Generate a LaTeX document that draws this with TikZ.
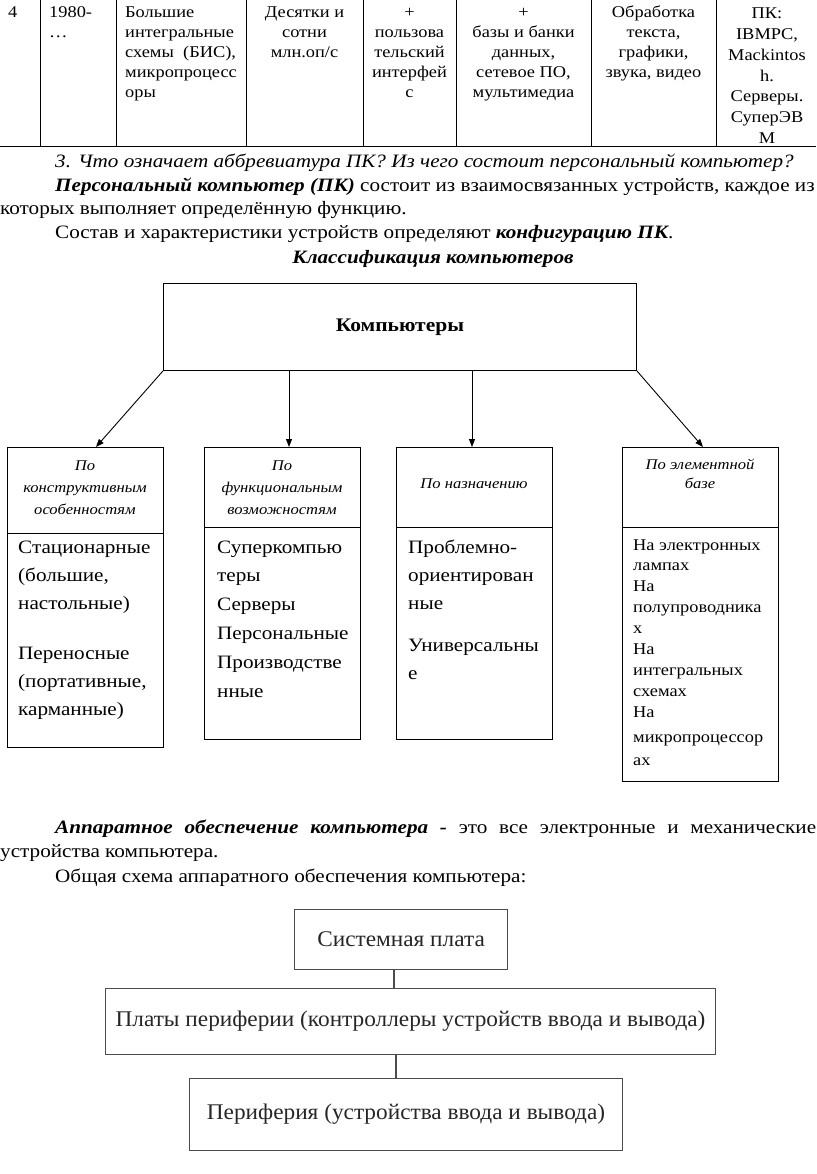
\documentclass[tikz,border=0pt]{standalone}
\usepackage{fontspec}
\setmainfont{Liberation Serif}[FakeStretch=1.12]
\newfontfamily\schemafont{Liberation Serif}[FakeStretch=1.04]
\usetikzlibrary{arrows.meta,calc}
\tikzset{
  tline/.style={line width=1pt},
  tcl/.style={inner sep=0pt, anchor=base west, font=\fontsize{16.4}{20}\selectfont},
  tcc/.style={inner sep=0pt, anchor=base, font=\fontsize{16.4}{20}\selectfont},
  body/.style={inner sep=0pt, anchor=base west, font=\fontsize{18.9}{24}\selectfont},
  cbox/.style={draw, line width=0.9pt, inner sep=0pt, anchor=north west},
  hdr/.style={inner sep=0pt, anchor=base, font=\fontsize{14.8}{22}\selectfont\itshape},
  itm/.style={inner sep=0pt, anchor=base west, font=\fontsize{18.9}{28}\selectfont},
  itms/.style={inner sep=0pt, anchor=base west, font=\fontsize{16.4}{21}\selectfont},
  arr/.style={-{Triangle[length=8pt,width=6pt]}, line width=0.9pt},
  sbox/.style={draw=black!70, line width=1.1pt, inner sep=0pt, text=black!85,
    font=\schemafont\fontsize{22.4}{24}\selectfont},
  slink/.style={draw=black!70, line width=1.1pt},
}
\begin{document}
\begin{tikzpicture}[x=1pt,y=-1pt]
\useasboundingbox (0,0) rectangle (816,1174);
% ---------- table row ----------
\foreach \xx in {40,116,246,363,456,591,716} \draw[tline] (\xx,0) -- (\xx,147);
\draw[tline] (0,147) -- (816,147);
\node[tcl] (c1) at (8,18) {4};
\foreach \t [count=\i] in {1980-,…}
  \node[tcl] (c2-\i) at (49,{18+(\i-1)*20}) {\t};
\foreach \t [count=\i] in {Большие,интегральные,{схемы\ \ (БИС),},микропроцесс,оры}
  \node[tcl] (c3-\i) at (125,{18+(\i-1)*20}) {\t};
\foreach \t [count=\i] in {Десятки и,сотни,млн.оп/с}
  \node[tcc] (c4-\i) at (304.5,{18+(\i-1)*20}) {\t};
\foreach \t [count=\i] in {+,пользова,тельский,интерфей,с}
  \node[tcc] (c5-\i) at (409.5,{18+(\i-1)*20}) {\t};
\foreach \t [count=\i] in {+,базы и банки,{данных,},{сетевое ПО,},мультимедиа}
  \node[tcc] (c6-\i) at (523.5,{18+(\i-1)*20}) {\t};
\foreach \t [count=\i] in {Обработка,{текста,},{графики,},{звука, видео}}
  \node[tcc] (c7-\i) at (653.5,{18+(\i-1)*20}) {\t};
\foreach \t [count=\i] in {ПК:,{IBMPC,},Mackintos,h.,Серверы.,СуперЭВ,М}
  \node[tcc] (c8-\i) at (767,{19+(\i-1)*20.7}) {\t};
% ---------- text ----------
\node[body] (l1) at (55,168) {\itshape 3. Что означает аббревиатура ПК? Из чего состоит персональный компьютер?};
\node[body] (l2) at (55,192) {{\bfseries\itshape Персональный компьютер (ПК)} состоит из взаимосвязанных устройств, каждое из};
\node[body] (l3) at (0,215) {которых выполняет определённую функцию.};
\node[body] (l4) at (55,239) {Состав и характеристики устройств определяют {\bfseries\itshape конфигурацию ПК}.};
\node[body, anchor=base] (l5) at (433,263) {\bfseries\itshape Классификация компьютеров};
% ---------- classification ----------
\node[cbox, minimum width=473pt, minimum height=87pt, font=\fontsize{19.2}{20}\selectfont\bfseries] (komp) at (163,283) {Компьютеры};
\node[cbox, minimum width=156pt, minimum height=300pt] (b1) at (7,447) {};
\node[cbox, minimum width=156pt, minimum height=292pt] (b2) at (204,447) {};
\node[cbox, minimum width=156pt, minimum height=292pt] (b3) at (396,447) {};
\node[cbox, minimum width=156pt, minimum height=334pt] (b4) at (622,447) {};
\draw[line width=0.9pt] (b1.west |- 0,533) -- (b1.east |- 0,533);
\draw[line width=0.9pt] (b2.west |- 0,527) -- (b2.east |- 0,527);
\draw[line width=0.9pt] (b3.west |- 0,527) -- (b3.east |- 0,527);
\draw[line width=0.9pt] (b4.west |- 0,527) -- (b4.east |- 0,527);
\coordinate (a1) at (96,447);
\coordinate (a2) at (289,447);
\coordinate (a3) at (472,447);
\coordinate (a4) at (703,447);
\draw[arr] (komp.south west) -- (a1);
\draw[arr] (a2 |- komp.south) -- (a2);
\draw[arr] (a3 |- komp.south) -- (a3);
\draw[arr] (komp.south east) -- (a4);
% headers
\foreach \t [count=\i] in {По,конструктивным,особенностям}
  \node[hdr] (h1-\i) at (85,{470+(\i-1)*22}) {\t};
\foreach \t [count=\i] in {По,функциональным,возможностям}
  \node[hdr] (h2-\i) at (282,{470+(\i-1)*22}) {\t};
\node[hdr] (h3-1) at (474,488) {По назначению};
\node[hdr] (h4-1) at (700,469) {По элементной};
\node[hdr] (h4-2) at (700,488) {базе};
% contents
\foreach \t/\yy [count=\i] in {Стационарные/553,{(большие,}/581,настольные)/609,Переносные/659,{(портативные,}/687,карманные)/715}
  \node[itm] (p1-\i) at (18,\yy) {\t};
\foreach \t [count=\i] in {Суперкомпью,теры,Серверы,Персональные,Производстве,нные}
  \node[itm] (p2-\i) at (217,{553+(\i-1)*28.8}) {\t};
\foreach \t/\yy [count=\i] in {Проблемно-/553,ориентирован/581,ные/609,Универсальны/651,е/679}
  \node[itm] (p3-\i) at (408,\yy) {\t};
\foreach \t/\yy [count=\i] in {На электронных/550,лампах/570,На/591,полупроводника/612,х/633,На/654,интегральных/675,схемах/696,На/717,микропроцессор/742,ах/765}
  \node[itms] (p4-\i) at (633,\yy) {\t};
% ---------- text 2 ----------
\node[body] (l6) at (55,833) {\makebox[761pt][s]{{\bfseries\itshape Аппаратное обеспечение компьютера -} это все электронные и механические}};
\node[body] (l7) at (0,857) {устройства компьютера.};
\node[body] (l8) at (55,882) {Общая схема аппаратного обеспечения компьютера:};
% ---------- hardware scheme ----------
\node[sbox, anchor=north west, minimum width=213pt, minimum height=60pt] (sp) at (294,909) {Системная плата};
\node[sbox, anchor=north west, minimum width=610pt, minimum height=66pt] (pp) at (105,988) {Платы периферии (контроллеры устройств ввода и вывода)};
\node[sbox, anchor=north west, minimum width=433pt, minimum height=72pt] (per) at (189,1078) {Периферия (устройства ввода и вывода)};
\coordinate (k1) at (394,0);
\coordinate (k2) at (396,0);
\draw[slink] (k1 |- sp.south) -- (k1 |- pp.north);
\draw[slink] (k2 |- pp.south) -- (k2 |- per.north);
\end{tikzpicture}
\end{document}
